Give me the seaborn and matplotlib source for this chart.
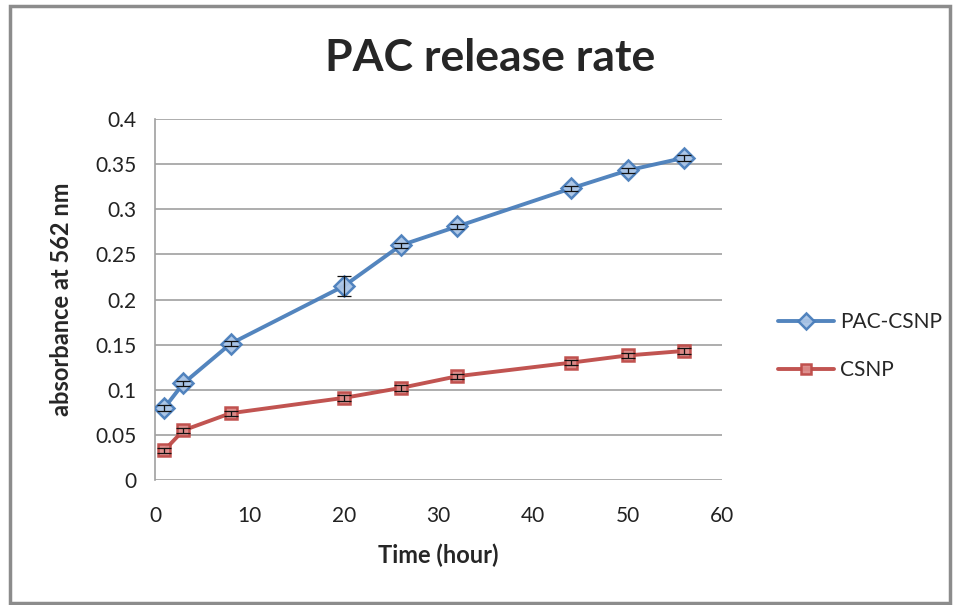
import matplotlib
matplotlib.use("Agg")
import matplotlib.pyplot as plt
import seaborn as sns
import pandas as pd
from matplotlib.patches import Rectangle

time_h = [1, 3, 8, 20, 26, 32, 44, 50, 56]
pac_csnp = [0.080, 0.107, 0.151, 0.215, 0.260, 0.281, 0.323, 0.343, 0.357]
pac_err = [0.003, 0.003, 0.003, 0.011, 0.003, 0.003, 0.003, 0.003, 0.003]
csnp = [0.033, 0.055, 0.074, 0.091, 0.102, 0.115, 0.130, 0.138, 0.143]
csnp_err = [0.003, 0.003, 0.003, 0.003, 0.003, 0.003, 0.003, 0.003, 0.003]

df = pd.DataFrame({
    "Time": time_h * 2,
    "value": pac_csnp + csnp,
    "err": pac_err + csnp_err,
    "series": ["PAC-CSNP"] * len(time_h) + ["CSNP"] * len(time_h),
})

sns.set_theme(style="white")
plt.rcParams["font.family"] = ["Lato", "DejaVu Sans"]

fig = plt.figure(figsize=(9.6, 6.05), dpi=100)
ax = fig.add_axes([155 / 960, 1 - 480 / 605, (722 - 155) / 960, (480 - 119) / 605])

palette = {"PAC-CSNP": "#4a7ebb", "CSNP": "#be4b48"}
face = {"PAC-CSNP": "#a9c4e6", "CSNP": "#dd8a88"}
markers = {"PAC-CSNP": "D", "CSNP": "s"}
sizes = {"PAC-CSNP": 10, "CSNP": 9}

for name in ["PAC-CSNP", "CSNP"]:
    sub = df[df["series"] == name]
    ax.errorbar(sub["Time"], sub["value"], yerr=sub["err"], fmt="none",
                ecolor="#111111", elinewidth=0.9, capsize=5, capthick=0.9, zorder=4)
    sns.lineplot(data=sub, x="Time", y="value", ax=ax, color=palette[name],
                 linewidth=2.8, marker=markers[name], markersize=sizes[name],
                 markerfacecolor=face[name], markeredgecolor=palette[name],
                 markeredgewidth=1.8, label=name, zorder=3, alpha=0.95)

ax.set_xlim(0, 60)
ax.set_ylim(0, 0.4)
ax.set_xticks(range(0, 61, 10))
ax.set_yticks([0, 0.05, 0.1, 0.15, 0.2, 0.25, 0.3, 0.35, 0.4])
ax.set_yticklabels(["0", "0.05", "0.1", "0.15", "0.2", "0.25", "0.3", "0.35", "0.4"])
ax.yaxis.grid(True, color="#a0a0a0", linewidth=1.2)
ax.xaxis.grid(False)
for s in ["top", "right", "bottom"]:
    ax.spines[s].set_visible(False)
ax.spines["left"].set_color("#a0a0a0")
ax.spines["left"].set_linewidth(1.2)
ax.tick_params(axis="both", labelsize=15, colors="#222222", length=0)
ax.tick_params(axis="y", pad=13)
ax.tick_params(axis="x", pad=19)
ax.set_xlabel("Time (hour)", fontsize=17, fontweight="bold", labelpad=12)
ax.set_ylabel("absorbance at 562 nm", fontsize=17, fontweight="bold", labelpad=16)

fig.text(490 / 960, 1 - 58 / 605, "PAC release rate", fontsize=32, fontweight="bold",
         ha="center", va="center")

leg = ax.legend(loc="center left", bbox_to_anchor=(1.065, 0.37), frameon=False,
                fontsize=15, labelspacing=1.35, handlelength=2.7, handletextpad=0.3,
                markerscale=0.85)

fig.patches.append(Rectangle((10 / 960, 1 - 603 / 605), 940 / 960, 597 / 605,
                             transform=fig.transFigure, fill=False,
                             edgecolor="#8c8c8c", linewidth=2.5))

fig.savefig("out.png", dpi=100)
